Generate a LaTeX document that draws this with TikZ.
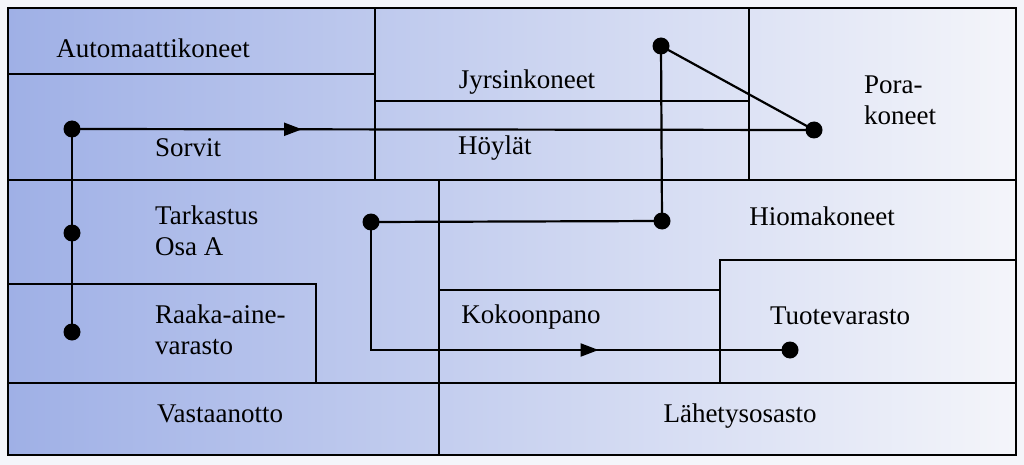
\documentclass[tikz,border=0pt]{standalone}
\usepackage{fontspec}
\setmainfont{Liberation Serif}
\usetikzlibrary{arrows.meta,decorations.markings}
\definecolor{bgl}{HTML}{9FB0E6}
\definecolor{bgr}{HTML}{F4F5FA}
\begin{document}
\begin{tikzpicture}[x=1pt,y=-1pt,
  wall/.style={line width=1.8pt},
  flow/.style={line width=2.2pt},
  dot/.style={circle,fill=black,inner sep=0pt,minimum size=17pt},
  lbl/.style={font=\fontsize{27}{31}\selectfont,align=left,inner sep=0pt},
  midarrow/.style={postaction={decorate},decoration={markings,mark=at position #1 with {\arrow{Triangle[length=18pt,width=13pt]}}}}]
\useasboundingbox (0,0) rectangle (1024,465);
\fill[bgr] (0,0) rectangle (1024,465);
\shade[left color=bgl,right color=bgr] (8,8) rectangle (1016,455);
% walls
\draw[wall] (8,8) rectangle (1016,455);
\draw[wall] (8,74) -- (375,74);
\draw[wall] (375,8) -- (375,180);
\draw[wall] (749,8) -- (749,180);
\draw[wall] (375,101) -- (749,101);
\draw[wall] (8,180) -- (1016,180);
\draw[wall] (439,180) -- (439,455);
\draw[wall] (8,284) -- (316,284) -- (316,383);
\draw[wall] (439,290) -- (720,290);
\draw[wall] (720,383) -- (720,260) -- (1016,260);
\draw[wall] (8,383) -- (1016,383);
% labels
\node[lbl] (auto) at (153,48) {Automaattikoneet};
\node[lbl] (jyr) at (527,82) {Jyrsinkoneet};
\node[lbl,align=left] (pora) at (900,100) {Pora-\\koneet};
\node[lbl,anchor=west] (sorvit) at (155,148) {Sorvit};
\node[lbl,anchor=west] (hoy) at (458,148) {Höylät};
\node[lbl,anchor=west] (tark) at (155,231) {Tarkastus\\Osa A};
\node[lbl] (hioma) at (822,216) {Hiomakoneet};
\node[lbl,anchor=west] (raaka) at (155,330) {Raaka-aine-\\varasto};
\node[lbl] (koko) at (531,317) {Kokoonpano};
\node[lbl] (tuote) at (840,316) {Tuotevarasto};
\node[lbl] (vast) at (220,414) {Vastaanotto};
\node[lbl] (lahe) at (740,416) {Lähetysosasto};
% flow
\node[dot] (d1) at (72,129) {};
\node[dot] (d2) at (72,233) {};
\node[dot] (d3) at (72,332) {};
\node[dot] (d4) at (814,130) {};
\node[dot] (d5) at (661,46) {};
\node[dot] (d6) at (662,221) {};
\node[dot] (d7) at (371,222) {};
\node[dot] (d8) at (790,350) {};
\coordinate (c1) at (371,350);
\draw[flow] (d3.center) -- (d1.center);
\draw[flow,midarrow=0.31] (d1.center) -- (d4.center);
\draw[flow] (d4.center) -- (d5.center) -- (d6.center) -- (d7.center);
\draw[flow,midarrow=0.65] (d7.center) -- (c1) -- (d8.center);
\end{tikzpicture}
\end{document}
